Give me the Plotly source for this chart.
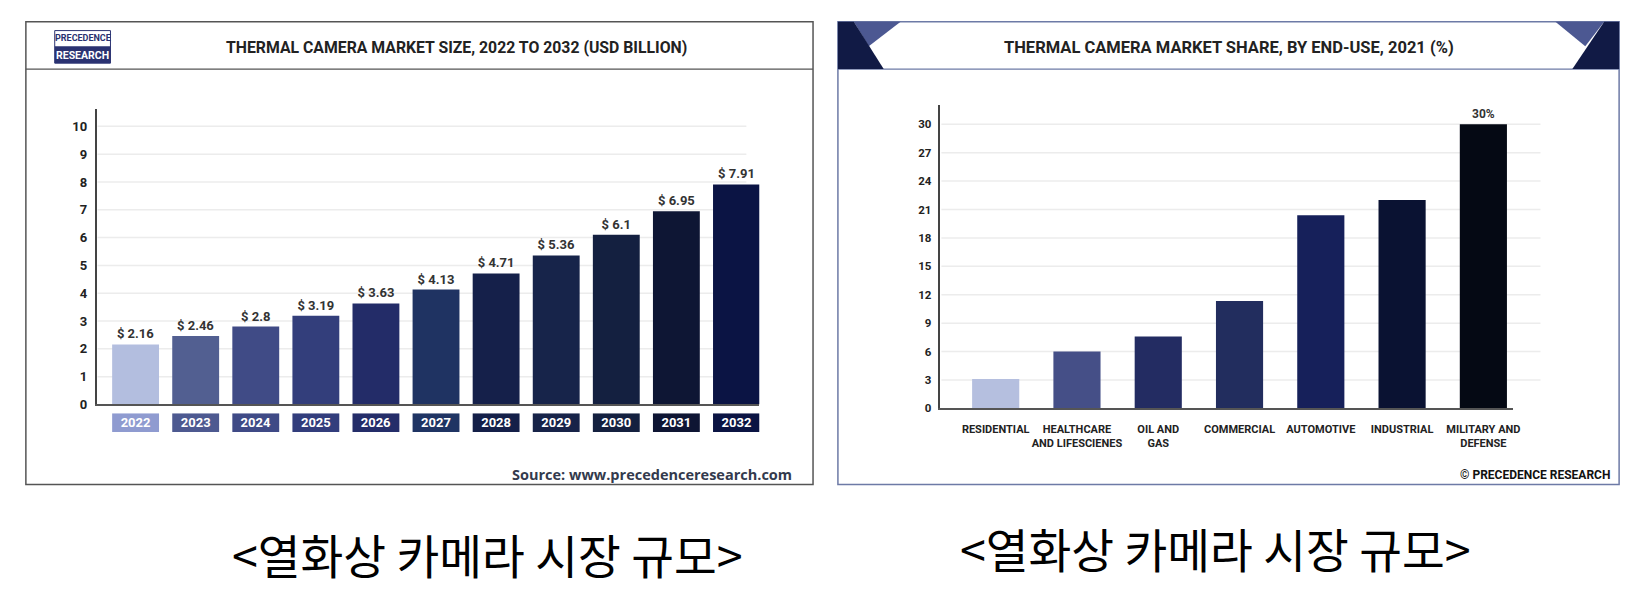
import plotly.graph_objects as go

# ---------------- data ----------------
years = ["2022", "2023", "2024", "2025", "2026", "2027", "2028", "2029", "2030", "2031", "2032"]
market_size = [2.16, 2.46, 2.8, 3.19, 3.63, 4.13, 4.71, 5.36, 6.1, 6.95, 7.91]
size_labels = ["$ 2.16", "$ 2.46", "$ 2.8", "$ 3.19", "$ 3.63", "$ 4.13", "$ 4.71", "$ 5.36", "$ 6.1", "$ 6.95", "$ 7.91"]
size_ticks = [0, 1, 2, 3, 4, 5, 6, 7, 8, 9, 10]

end_use = ["RESIDENTIAL", "HEALTHCARE<br>AND LIFESCIENES", "OIL AND<br>GAS", "COMMERCIAL",
           "AUTOMOTIVE", "INDUSTRIAL", "MILITARY AND<br>DEFENSE"]
end_use_share = [3.1, 6.0, 7.6, 11.35, 20.4, 22.0, 30.0]
share_labels = ["", "", "", "", "", "", "30%"]
share_ticks = [0, 3, 6, 9, 12, 15, 18, 21, 24, 27, 30]

caption = "<열화상 카메라 시장 규모>"

# ---------------- styles ----------------
W, H = 1650, 593
COND = "Roboto, Liberation Sans, sans-serif"
GRID = "#ececec"
bar_colors = ["#b3bedf", "#525f91", "#404b86", "#333e7b", "#232c68", "#1f3362",
              "#15204a", "#17244a", "#142040", "#0e1634", "#0b1444"]
box_colors = ["#8f9bd0", "#4d5990", "#3f4a86", "#323d7c", "#242d69", "#1f3463",
              "#141f48", "#172348", "#14203f", "#0e1533", "#0b1443"]
share_colors = ["#b5bfdf", "#454f87", "#232c62", "#222d5e", "#16205a", "#0a1232", "#050914"]


def fx(px):
    return px / W


def fy(py):
    return 1 - py / H


fig = go.Figure()

# left chart bars
fig.add_trace(go.Bar(
    x=years, y=market_size, text=size_labels, textposition="outside",
    marker=dict(color=bar_colors, line=dict(width=0)),
    textfont=dict(family=COND, size=13, color="#333333", weight="bold"),
    cliponaxis=False, xaxis="x", yaxis="y", hoverinfo="skip", width=0.78,
))
# left chart year boxes
fig.add_trace(go.Bar(
    x=years, y=[1] * len(years), text=years, textposition="inside",
    insidetextanchor="middle", constraintext="none",
    marker=dict(color=box_colors, line=dict(width=0)),
    textfont=dict(family=COND, size=13, color="#ffffff", weight="bold"),
    xaxis="x3", yaxis="y3", hoverinfo="skip", width=0.78,
))
# right chart bars
fig.add_trace(go.Bar(
    x=end_use, y=end_use_share, text=share_labels, textposition="outside",
    marker=dict(color=share_colors, line=dict(width=0)),
    textfont=dict(family=COND, size=12, color="#333333", weight="bold"),
    cliponaxis=False, xaxis="x2", yaxis="y2", hoverinfo="skip", width=0.58,
))

tickfont = dict(family=COND, size=13, color="#222222", weight="bold")

fig.update_layout(
    width=W, height=H, margin=dict(l=0, r=0, t=0, b=0),
    paper_bgcolor="white", plot_bgcolor="rgba(0,0,0,0)",
    showlegend=False, bargap=0.22,
    xaxis=dict(domain=[fx(97), fx(763)], range=[-0.65, 10.38], showticklabels=False,
               showline=True, linecolor="#555555", linewidth=2, ticks="", showgrid=False,
               zeroline=False, fixedrange=True),
    yaxis=dict(domain=[fy(410), fy(110)], range=[0, 10.64], tickvals=size_ticks,
               showline=True, linecolor="#444444", linewidth=1.5, showgrid=False,
               zeroline=False, tickfont=tickfont,
               ticks="outside", ticklen=5, tickcolor="rgba(0,0,0,0)", fixedrange=True),
    xaxis3=dict(domain=[fx(97), fx(763)], range=[-0.65, 10.38], showticklabels=False,
                showline=False, showgrid=False, zeroline=False, anchor="y3", fixedrange=True),
    yaxis3=dict(domain=[fy(438), fy(419)], range=[0, 1], showticklabels=False,
                showline=False, showgrid=False, zeroline=False, anchor="x3", fixedrange=True),
    xaxis2=dict(domain=[fx(945), fx(1520)], range=[-0.68, 6.36], anchor="y2",
                showline=True, linecolor="#555555", linewidth=2, ticks="", showgrid=False,
                zeroline=False, tickangle=0, ticklabelstandoff=9,
                tickfont=dict(family=COND, size=11, color="#222222", weight="bold"),
                fixedrange=True),
    yaxis2=dict(domain=[fy(414), fy(106)], range=[0, 32.08], tickvals=share_ticks, anchor="x2",
                showline=True, linecolor="#444444", linewidth=1.5, showgrid=False,
                zeroline=False,
                tickfont=dict(family=COND, size=11.5, color="#222222", weight="bold"),
                ticks="outside", ticklen=5, tickcolor="rgba(0,0,0,0)", fixedrange=True),
)

shapes = []
# gridlines (drawn at the tick values, below the bars)
for v in size_ticks[1:]:
    shapes.append(dict(type="line", xref="paper", yref="y", x0=fx(98), x1=fx(750), y0=v, y1=v,
                       line=dict(color=GRID, width=1.5), layer="below"))
for v in share_ticks[1:]:
    shapes.append(dict(type="line", xref="paper", yref="y2", x0=fx(946), x1=fx(1548), y0=v, y1=v,
                       line=dict(color=GRID, width=1.5), layer="below"))
# left panel frame and header separator
shapes.append(dict(type="rect", xref="paper", yref="paper", x0=fx(26), x1=fx(817), y0=fy(491), y1=fy(22),
                   line=dict(color="#555555", width=1.5), fillcolor="rgba(0,0,0,0)"))
shapes.append(dict(type="line", xref="paper", yref="paper", x0=fx(26), x1=fx(817), y0=fy(70), y1=fy(70),
                   line=dict(color="#555555", width=1.2)))
# logo
shapes.append(dict(type="rect", xref="paper", yref="paper", x0=fx(55), x1=fx(111), y0=fy(64), y1=fy(31),
                   line=dict(color="#2a3271", width=1), fillcolor="white"))
shapes.append(dict(type="rect", xref="paper", yref="paper", x0=fx(55), x1=fx(111), y0=fy(64), y1=fy(47),
                   line=dict(color="#2a3271", width=0), fillcolor="#2a3271"))
# right panel frame and header separator
shapes.append(dict(type="rect", xref="paper", yref="paper", x0=fx(842), x1=fx(1627), y0=fy(491), y1=fy(22),
                   line=dict(color="#6d7aa6", width=1.5), fillcolor="rgba(0,0,0,0)"))
shapes.append(dict(type="line", xref="paper", yref="paper", x0=fx(842), x1=fx(1627), y0=fy(70), y1=fy(70),
                   line=dict(color="#6d7aa6", width=1.2)))


def poly(pts, color):
    d = "M " + " L ".join(f"{fx(a):.5f},{fy(b):.5f}" for a, b in pts) + " Z"
    return dict(type="path", xref="paper", yref="paper", path=d, fillcolor=color, line=dict(width=0))


shapes.append(poly([(858, 22), (905, 22), (873, 47)], "#4c5892"))
shapes.append(poly([(842, 22), (858, 22), (888, 70), (842, 70)], "#111a45"))
shapes.append(poly([(1563, 22), (1612, 22), (1593, 47)], "#4c5892"))
shapes.append(poly([(1612, 22), (1627, 22), (1627, 70), (1580, 70)], "#111a45"))
fig.update_layout(shapes=shapes)

ann = []
ann.append(dict(text="THERMAL CAMERA MARKET SIZE, 2022 TO 2032 (USD BILLION)", x=fx(459), y=fy(48),
                xref="paper", yref="paper", showarrow=False, xanchor="center", yanchor="middle",
                font=dict(family=COND, size=15.8, color="#222222", weight="bold")))
ann.append(dict(text="THERMAL CAMERA MARKET SHARE, BY END-USE, 2021 (%)", x=fx(1235), y=fy(48),
                xref="paper", yref="paper", showarrow=False, xanchor="center", yanchor="middle",
                font=dict(family=COND, size=16.5, color="#222222", weight="bold")))
ann.append(dict(text="PRECEDENCE", x=fx(83), y=fy(39), xref="paper", yref="paper", showarrow=False,
                xanchor="center", yanchor="middle",
                font=dict(family=COND, size=9, color="#2a3271", weight="bold")))
ann.append(dict(text="RESEARCH", x=fx(83), y=fy(56), xref="paper", yref="paper", showarrow=False,
                xanchor="center", yanchor="middle",
                font=dict(family=COND, size=10.5, color="#ffffff", weight="bold")))
ann.append(dict(text="Source: www.precedenceresearch.com", x=fx(798), y=fy(481), xref="paper", yref="paper",
                showarrow=False, xanchor="right", yanchor="middle",
                font=dict(family="Open Sans, sans-serif", size=14.5, color="#333a4d", weight="bold")))
ann.append(dict(text="© PRECEDENCE RESEARCH", x=fx(1620), y=fy(481), xref="paper", yref="paper",
                showarrow=False, xanchor="right", yanchor="middle",
                font=dict(family=COND, size=12, color="#111111", weight="bold")))
ann.append(dict(text=caption, x=fx(490), y=fy(561), xref="paper", yref="paper", showarrow=False,
                xanchor="center", yanchor="middle",
                font=dict(family="Noto Sans CJK KR, sans-serif", size=46.5, color="#000000")))
ann.append(dict(text=caption, x=fx(1221), y=fy(555), xref="paper", yref="paper", showarrow=False,
                xanchor="center", yanchor="middle",
                font=dict(family="Noto Sans CJK KR, sans-serif", size=46.5, color="#000000")))
fig.update_layout(annotations=ann)

fig.write_html("out.html", config={"displayModeBar": False},
               post_script="document.body.style.margin='0';document.body.style.overflow='hidden';")
